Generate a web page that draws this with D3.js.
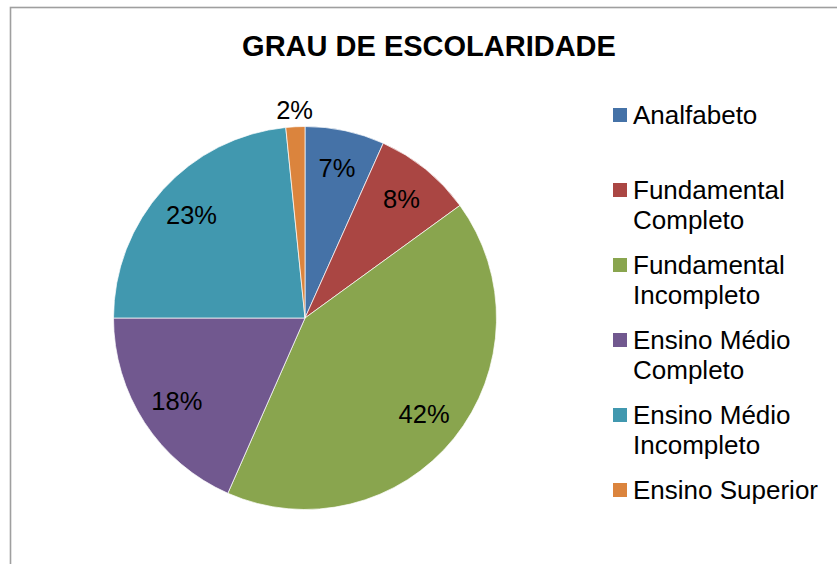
<!DOCTYPE html>
<html>
<head>
<meta charset="utf-8">
<script src="https://cdn.jsdelivr.net/npm/d3@7"></script>
<style>
  html, body { margin: 0; padding: 0; background: #fff; }
  svg { display: block; font-family: Arial, "Liberation Sans", sans-serif; }
</style>
</head>
<body>
<svg id="chart" width="837" height="564"></svg>
<script>
const title = "GRAU DE ESCOLARIDADE";
const categories = ["Analfabeto", "Fundamental Completo", "Fundamental Incompleto", "Ensino Médio Completo", "Ensino Médio Incompleto", "Ensino Superior"];
const legendLines = [["Analfabeto"], ["Fundamental", "Completo"], ["Fundamental", "Incompleto"], ["Ensino Médio", "Completo"], ["Ensino Médio", "Incompleto"], ["Ensino Superior"]];
const values = [6.7, 8.3, 41.6, 18.4, 23.4, 1.6];
const colors = ["#4572A7", "#AA4643", "#89A54E", "#71588F", "#4198AF", "#DB843D"];

const svg = d3.select("#chart");

// chart frame
svg.append("rect")
  .attr("x", 10.5).attr("y", 7.5)
  .attr("width", 1000).attr("height", 1000)
  .attr("fill", "#fff")
  .attr("stroke", "#9f9f9f")
  .attr("stroke-width", 1.6);

// title
svg.append("text")
  .attr("x", 429).attr("y", 56)
  .attr("text-anchor", "middle")
  .attr("font-weight", "bold")
  .attr("font-size", 29)
  .attr("fill", "#000")
  .text(title);

const cx = 305, cy = 318, R = 191.5;
const total = d3.sum(values);
const pie = d3.pie().sort(null).value(d => d)(values);
const arc = d3.arc().innerRadius(0).outerRadius(R);
const color = d3.scaleOrdinal().domain(categories).range(colors);

const g = svg.append("g").attr("transform", `translate(${cx},${cy})`);
g.selectAll("path.slice")
  .data(pie)
  .join("path")
  .attr("class", "slice")
  .attr("d", arc)
  .attr("fill", (d, i) => color(categories[i]))
  .attr("stroke", "rgba(255,255,255,0.7)")
  .attr("stroke-width", 1);

function labelPos(d) {
  const share = d.value / total;
  const r = share < 0.05 ? 208 : 153;
  const a = (d.startAngle + d.endAngle) / 2;
  return [Math.sin(a) * r, -Math.cos(a) * r];
}
g.selectAll("text.lbl")
  .data(pie)
  .join("text")
  .attr("class", "lbl")
  .attr("x", d => labelPos(d)[0])
  .attr("y", d => labelPos(d)[1])
  .attr("dy", "0.34em")
  .attr("text-anchor", "middle")
  .attr("font-size", 25.5)
  .attr("fill", "#000")
  .text(d => d3.format(".0%")(d.value / total));

// legend
const lg = svg.append("g");
const legendY = d3.scaleLinear().domain([0, 1]).range([115, 190]);
categories.forEach((c, i) => {
  const y = legendY(i);
  lg.append("rect")
    .attr("x", 613).attr("y", y - 7)
    .attr("width", 14).attr("height", 14)
    .attr("fill", color(c));
  const t = lg.append("text")
    .attr("x", 633).attr("y", y)
    .attr("font-size", 26)
    .attr("fill", "#000");
  legendLines[i].forEach((line, j) => {
    t.append("tspan")
      .attr("x", 633)
      .attr("y", y + j * 30)
      .attr("dy", "0.36em")
      .text(line);
  });
});
</script>
</body>
</html>
